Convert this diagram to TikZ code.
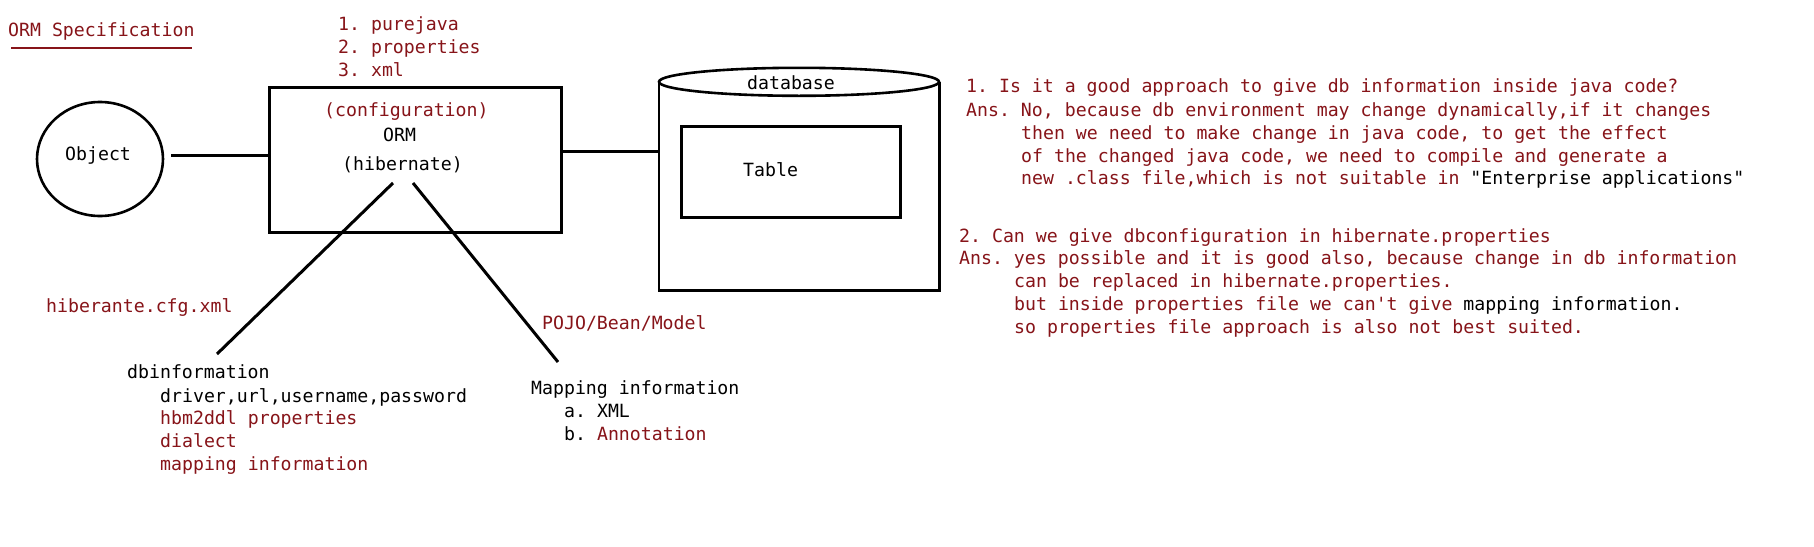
\documentclass[tikz,border=0pt]{standalone}
\usepackage{fontspec}
\usetikzlibrary{shapes.geometric}
\setmonofont{DejaVu Sans Mono}
\definecolor{dred}{RGB}{135,20,25}
\tikzset{
  bg/.style={font=\ttfamily\frenchspacing\fontsize{18.2}{23}\selectfont, inner sep=0pt, anchor=base west},
  rd/.style={text=dred},
  bk/.style={text=black},
  conn/.style={draw=black, line width=3pt},
  boxline/.style={draw=black, line width=3pt},
}
\begin{document}
\begin{tikzpicture}[x=1pt,y=-1pt]
\useasboundingbox[fill=white] (0,0) rectangle (1814,546);

% title
\node[bg,rd] (title) at (8,36) {ORM Specification};
\draw[dred, line width=2.2pt] (11,48) -- (192,48);

% configuration list
\node[bg,rd] (c1) at (338,30) {1. purejava};
\node[bg,rd] (c2) at (338,53) {2. properties};
\node[bg,rd] (c3) at (338,76) {3. xml};

% Object ellipse
\node[ellipse, draw=black, line width=2.6pt, minimum width=126pt, minimum height=114pt, inner sep=0pt] (obj) at (100,159) {};
\node[bg,bk] (objt) at (65,160) {Object};

% ORM box
\node[boxline, minimum width=292pt, minimum height=145pt, inner sep=0pt] (orm) at (415,159.5) {};
\node[bg,rd] (cfg) at (324,116) {(configuration)};
\node[bg,bk] (ormt) at (383,141) {ORM};
\node[bg,bk] (hib) at (342,170) {(hibernate)};

% database cylinder
\node[minimum width=280pt, minimum height=208pt, inner sep=0pt] (db) at (799,186) {};
\draw[line width=2.6pt] (db.north west) -- (db.south west) -- (db.south east) -- (db.north east);
\draw[line width=2.6pt, fill=white] (db.north) ellipse [x radius=140pt, y radius=14pt];
\node[bg,bk] (dbt) at (747,89) {database};
\node[boxline, minimum width=219pt, minimum height=91pt, inner sep=0pt] (tbl) at (790.5,171.5) {};
\node[bg,bk] (tblt) at (743,176) {Table};

% connectors
\coordinate (oe) at (171,155);
\draw[conn] (oe) -- (oe -| orm.west);
\coordinate (de) at (659,151);
\draw[conn] (de -| orm.east) -- (de);
\coordinate (h1) at (393,183);
\coordinate (h2) at (413,183);
\coordinate (d1) at (217,354);
\coordinate (m1) at (558,362);
\draw[conn] (h1) -- (d1);
\draw[conn] (h2) -- (m1);

% left-bottom texts
\node[bg,rd] (cfgx) at (46,312) {hiberante.cfg.xml};
\node[bg,bk] (dbi) at (127,378) {dbinformation};
\node[bg,bk] (dbi1) at (160,402) {driver,url,username,password};
\node[bg,rd] (dbi2) at (160,424) {hbm2ddl properties};
\node[bg,rd] (dbi3) at (160,447) {dialect};
\node[bg,rd] (dbi4) at (160,470) {mapping information};

\node[bg,rd] (pojo) at (542,329) {POJO/Bean/Model};
\node[bg,bk] (map) at (531,394) {Mapping information};
\node[bg,bk] (map1) at (564,417) {a. XML};
\node[bg,bk] (map2) at (564,440) {b. \textcolor{dred}{Annotation}};

% question 1
\node[bg,rd] (q1a) at (966,92) {1. Is it a good approach to give db information inside java code?};
\node[bg,rd] (q1b) at (966,116) {Ans. No, because db environment may change dynamically,if it changes};
\node[bg,rd] (q1c) at (1021,139) {then we need to make change in java code, to get the effect};
\node[bg,rd] (q1d) at (1021,162) {of the changed java code, we need to compile and generate a};
\node[bg,rd] (q1e) at (1021,184) {new .class file,which is not suitable in \textcolor{black}{"Enterprise applications"}};

% question 2
\node[bg,rd] (q2a) at (959,242) {2. Can we give dbconfiguration in hibernate.properties};
\node[bg,rd] (q2b) at (959,264) {Ans. yes possible and it is good also, because change in db information};
\node[bg,rd] (q2c) at (1014,287) {can be replaced in hibernate.properties.};
\node[bg,rd] (q2d) at (1014,310) {but inside properties file we can't give \textcolor{black}{mapping information.}};
\node[bg,rd] (q2e) at (1014,333) {so properties file approach is also not best suited.};
\end{tikzpicture}
\end{document}
